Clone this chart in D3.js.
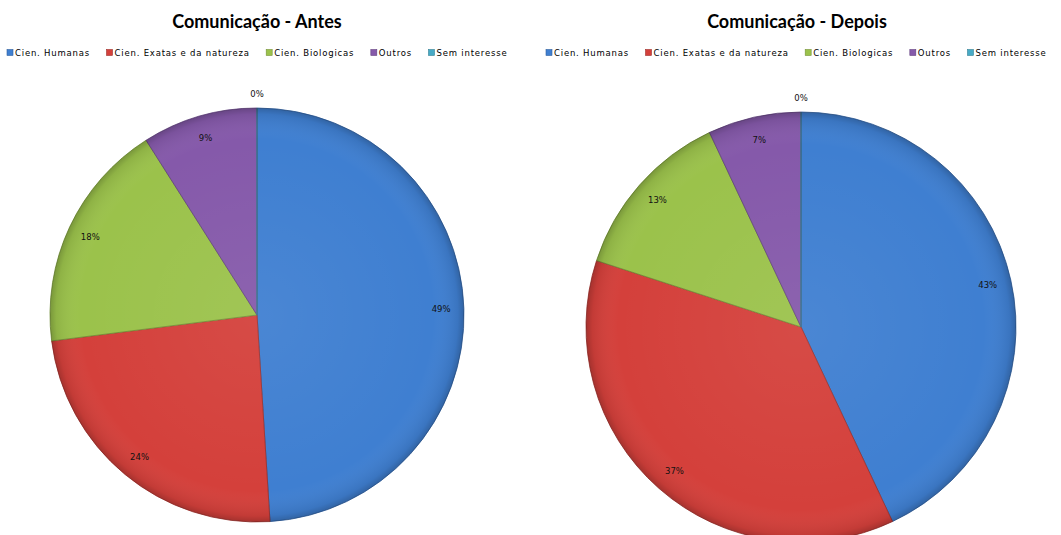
<!DOCTYPE html>
<html>
<head>
<meta charset="utf-8">
<script src="https://cdn.jsdelivr.net/npm/d3@7"></script>
<style>
  body { margin:0; background:#fff; }
  svg { display:block; }
  .title { font-family: Lato, "Open Sans", sans-serif; font-weight:bold; font-size:18px; fill:#000; }
  .leg { font-family: "DejaVu Sans", Tahoma, sans-serif; font-size:8.5px; fill:#000; letter-spacing:0.8px; }
  .lbl { font-family: "DejaVu Sans", Tahoma, sans-serif; font-size:8.5px; fill:#111; }
</style>
</head>
<body>
<svg id="chart" width="1061" height="535"></svg>
<script>
// ---- dados
var categorias = ["Cien. Humanas", "Cien. Exatas e da natureza", "Cien. Biologicas", "Outros", "Sem interesse"];
var antes  = [49, 24, 18, 9, 0];
var depois = [43, 37, 13, 7, 0];
var titulos = ["Comunicação - Antes", "Comunicação - Depois"];
var cores = ["#3f7fd1", "#d4403b", "#9bc24b", "#8559aa", "#47aac6"];

var svg = d3.select("#chart");
var defs = svg.append("defs");

// sombreado radial (efeito Excel)
var grad = defs.append("radialGradient").attr("id", "shade")
  .attr("cx", "50%").attr("cy", "50%").attr("r", "50%");
grad.append("stop").attr("offset", "0%").attr("stop-color", "#fff").attr("stop-opacity", 0.06);
grad.append("stop").attr("offset", "85%").attr("stop-color", "#fff").attr("stop-opacity", 0);
grad.append("stop").attr("offset", "97%").attr("stop-color", "#000").attr("stop-opacity", 0.08);
grad.append("stop").attr("offset", "100%").attr("stop-color", "#000").attr("stop-opacity", 0.22);

var paineis = [
  { valores: antes,  titulo: titulos[0], cx: 257, cy: 315, r: 207, tx: 257, legX: 7 },
  { valores: depois, titulo: titulos[1], cx: 801, cy: 327, r: 215, tx: 797, legX: 546 }
];

var pie = d3.pie().sort(null).value(function(d){ return d; });

paineis.forEach(function(p) {
  var g = svg.append("g");

  //------- titulo
  g.append("text").attr("class", "title")
    .attr("x", p.tx).attr("y", 28).attr("text-anchor", "middle")
    .text(p.titulo);

  //------- legenda (fluxo horizontal)
  var x = p.legX;
  categorias.forEach(function(c, i) {
    g.append("rect").attr("x", x).attr("y", 49.5).attr("width", 6).attr("height", 6)
      .attr("fill", cores[i]).attr("stroke", d3.color(cores[i]).darker(0.8)).attr("stroke-width", 0.6);
    var t = g.append("text").attr("class", "leg").attr("x", x + 8).attr("y", 56).text(c);
    x += 8 + t.node().getComputedTextLength() + 16.5;
  });

  //------- pizza
  var arcs = pie(p.valores);
  var arc = d3.arc().innerRadius(0).outerRadius(p.r);
  var pg = g.append("g").attr("transform", "translate(" + p.cx + "," + p.cy + ")");

  pg.selectAll("path.fatia").data(arcs).enter().append("path")
    .attr("class", "fatia")
    .attr("d", arc)
    .attr("fill", function(d, i){ return cores[i]; })
    .attr("stroke", function(d, i){ return d3.color(cores[i]).darker(0.9); })
    .attr("stroke-width", 0.8)
    .attr("stroke-linejoin", "round");

  pg.append("circle").attr("r", p.r).attr("fill", "url(#shade)").attr("pointer-events", "none");

  //------- rotulos
  var arcLbl = d3.arc().innerRadius(p.r * 0.89).outerRadius(p.r * 0.89);
  pg.selectAll("text.lbl").data(arcs).enter().append("text")
    .attr("class", "lbl")
    .attr("text-anchor", "middle")
    .attr("transform", function(d) {
      if (d.value === 0) {
        var a = (d.startAngle + d.endAngle) / 2;
        return "translate(" + (Math.sin(a) * (p.r + 11)) + "," + (-Math.cos(a) * (p.r + 11)) + ")";
      }
      var c = arcLbl.centroid(d);
      return "translate(" + c[0] + "," + (c[1] + 3) + ")";
    })
    .text(function(d){ return d.value + "%"; });
});
</script>
</body>
</html>
